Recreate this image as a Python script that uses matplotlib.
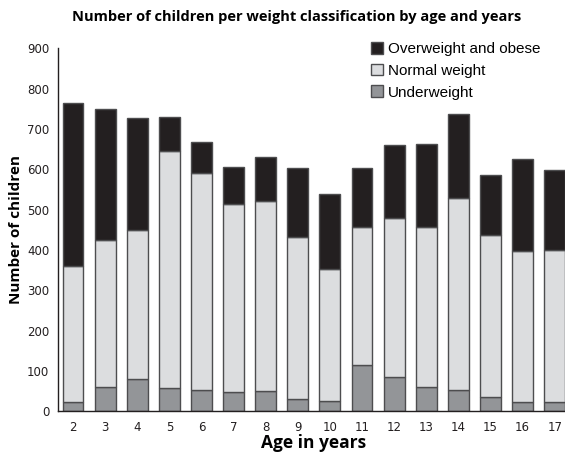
import numpy as np
import matplotlib
matplotlib.use("Agg")
import matplotlib.pyplot as plt
from matplotlib.patches import Patch

# Datos
ages = [2, 3, 4, 5, 6, 7, 8, 9, 10, 11, 12, 13, 14, 15, 16, 17]
underweight = [22, 60, 80, 58, 53, 48, 50, 30, 26, 114, 86, 60, 53, 35, 24, 23]
normal_top = [361, 425, 449, 646, 591, 514, 521, 432, 353, 458, 480, 456, 530, 437, 398, 399]
totals = [764, 749, 727, 729, 667, 606, 631, 604, 538, 604, 661, 663, 738, 586, 625, 599]

under = np.array(underweight)
normal = np.array(normal_top) - under
over = np.array(totals) - np.array(normal_top)

c_over = '#231f20'
c_norm = '#dcdddf'
c_under = '#939598'
edge = '#4d4d4f'

fig = plt.figure(figsize=(5.65, 4.53), dpi=100)
ax = fig.add_axes([0.102, 0.092, 0.907, 0.801])

x = np.arange(len(ages))
w = 0.65
ax.bar(x, under, w, color=c_under, edgecolor=edge, linewidth=1)
ax.bar(x, normal, w, bottom=under, color=c_norm, edgecolor=edge, linewidth=1)
ax.bar(x, over, w, bottom=under + normal, color=c_over, edgecolor=edge, linewidth=1)

ax.set_xlim(-0.48, 15.48)
ax.set_ylim(0, 900)
ax.set_yticks(range(0, 901, 100))
ax.set_xticks(x)
ax.set_xticklabels([str(a) for a in ages])
ax.tick_params(length=0, labelsize=8.5, colors='#231f20')
ax.tick_params(axis='x', pad=7)
ax.tick_params(axis='y', pad=6)
for s in ['top', 'right']:
    ax.spines[s].set_visible(False)
for s in ['left', 'bottom']:
    ax.spines[s].set_color('#231f20')
    ax.spines[s].set_linewidth(1)

ax.set_ylabel('Number of children', fontsize=11, fontweight='bold', family='Open Sans', labelpad=3)
ax.set_xlabel('Age in years', fontsize=12.5, fontweight='bold', family='Open Sans', labelpad=0)
fig.suptitle('Number of children per weight classification by age and years',
             fontsize=10.5, fontweight='bold', family='Open Sans', x=0.525, y=0.978)

handles = [Patch(facecolor=c_over, edgecolor=edge, label='Overweight and obese'),
           Patch(facecolor=c_norm, edgecolor=edge, label='Normal weight'),
           Patch(facecolor=c_under, edgecolor=edge, label='Underweight')]
ax.legend(handles=handles, loc='upper left', bbox_to_anchor=(0.6, 1.035), frameon=False,
          prop={'family': 'Liberation Sans', 'size': 11}, handlelength=0.8, handleheight=0.8,
          handletextpad=0.3, labelspacing=0.5, borderaxespad=0)

fig.savefig('out.png', dpi=100)
